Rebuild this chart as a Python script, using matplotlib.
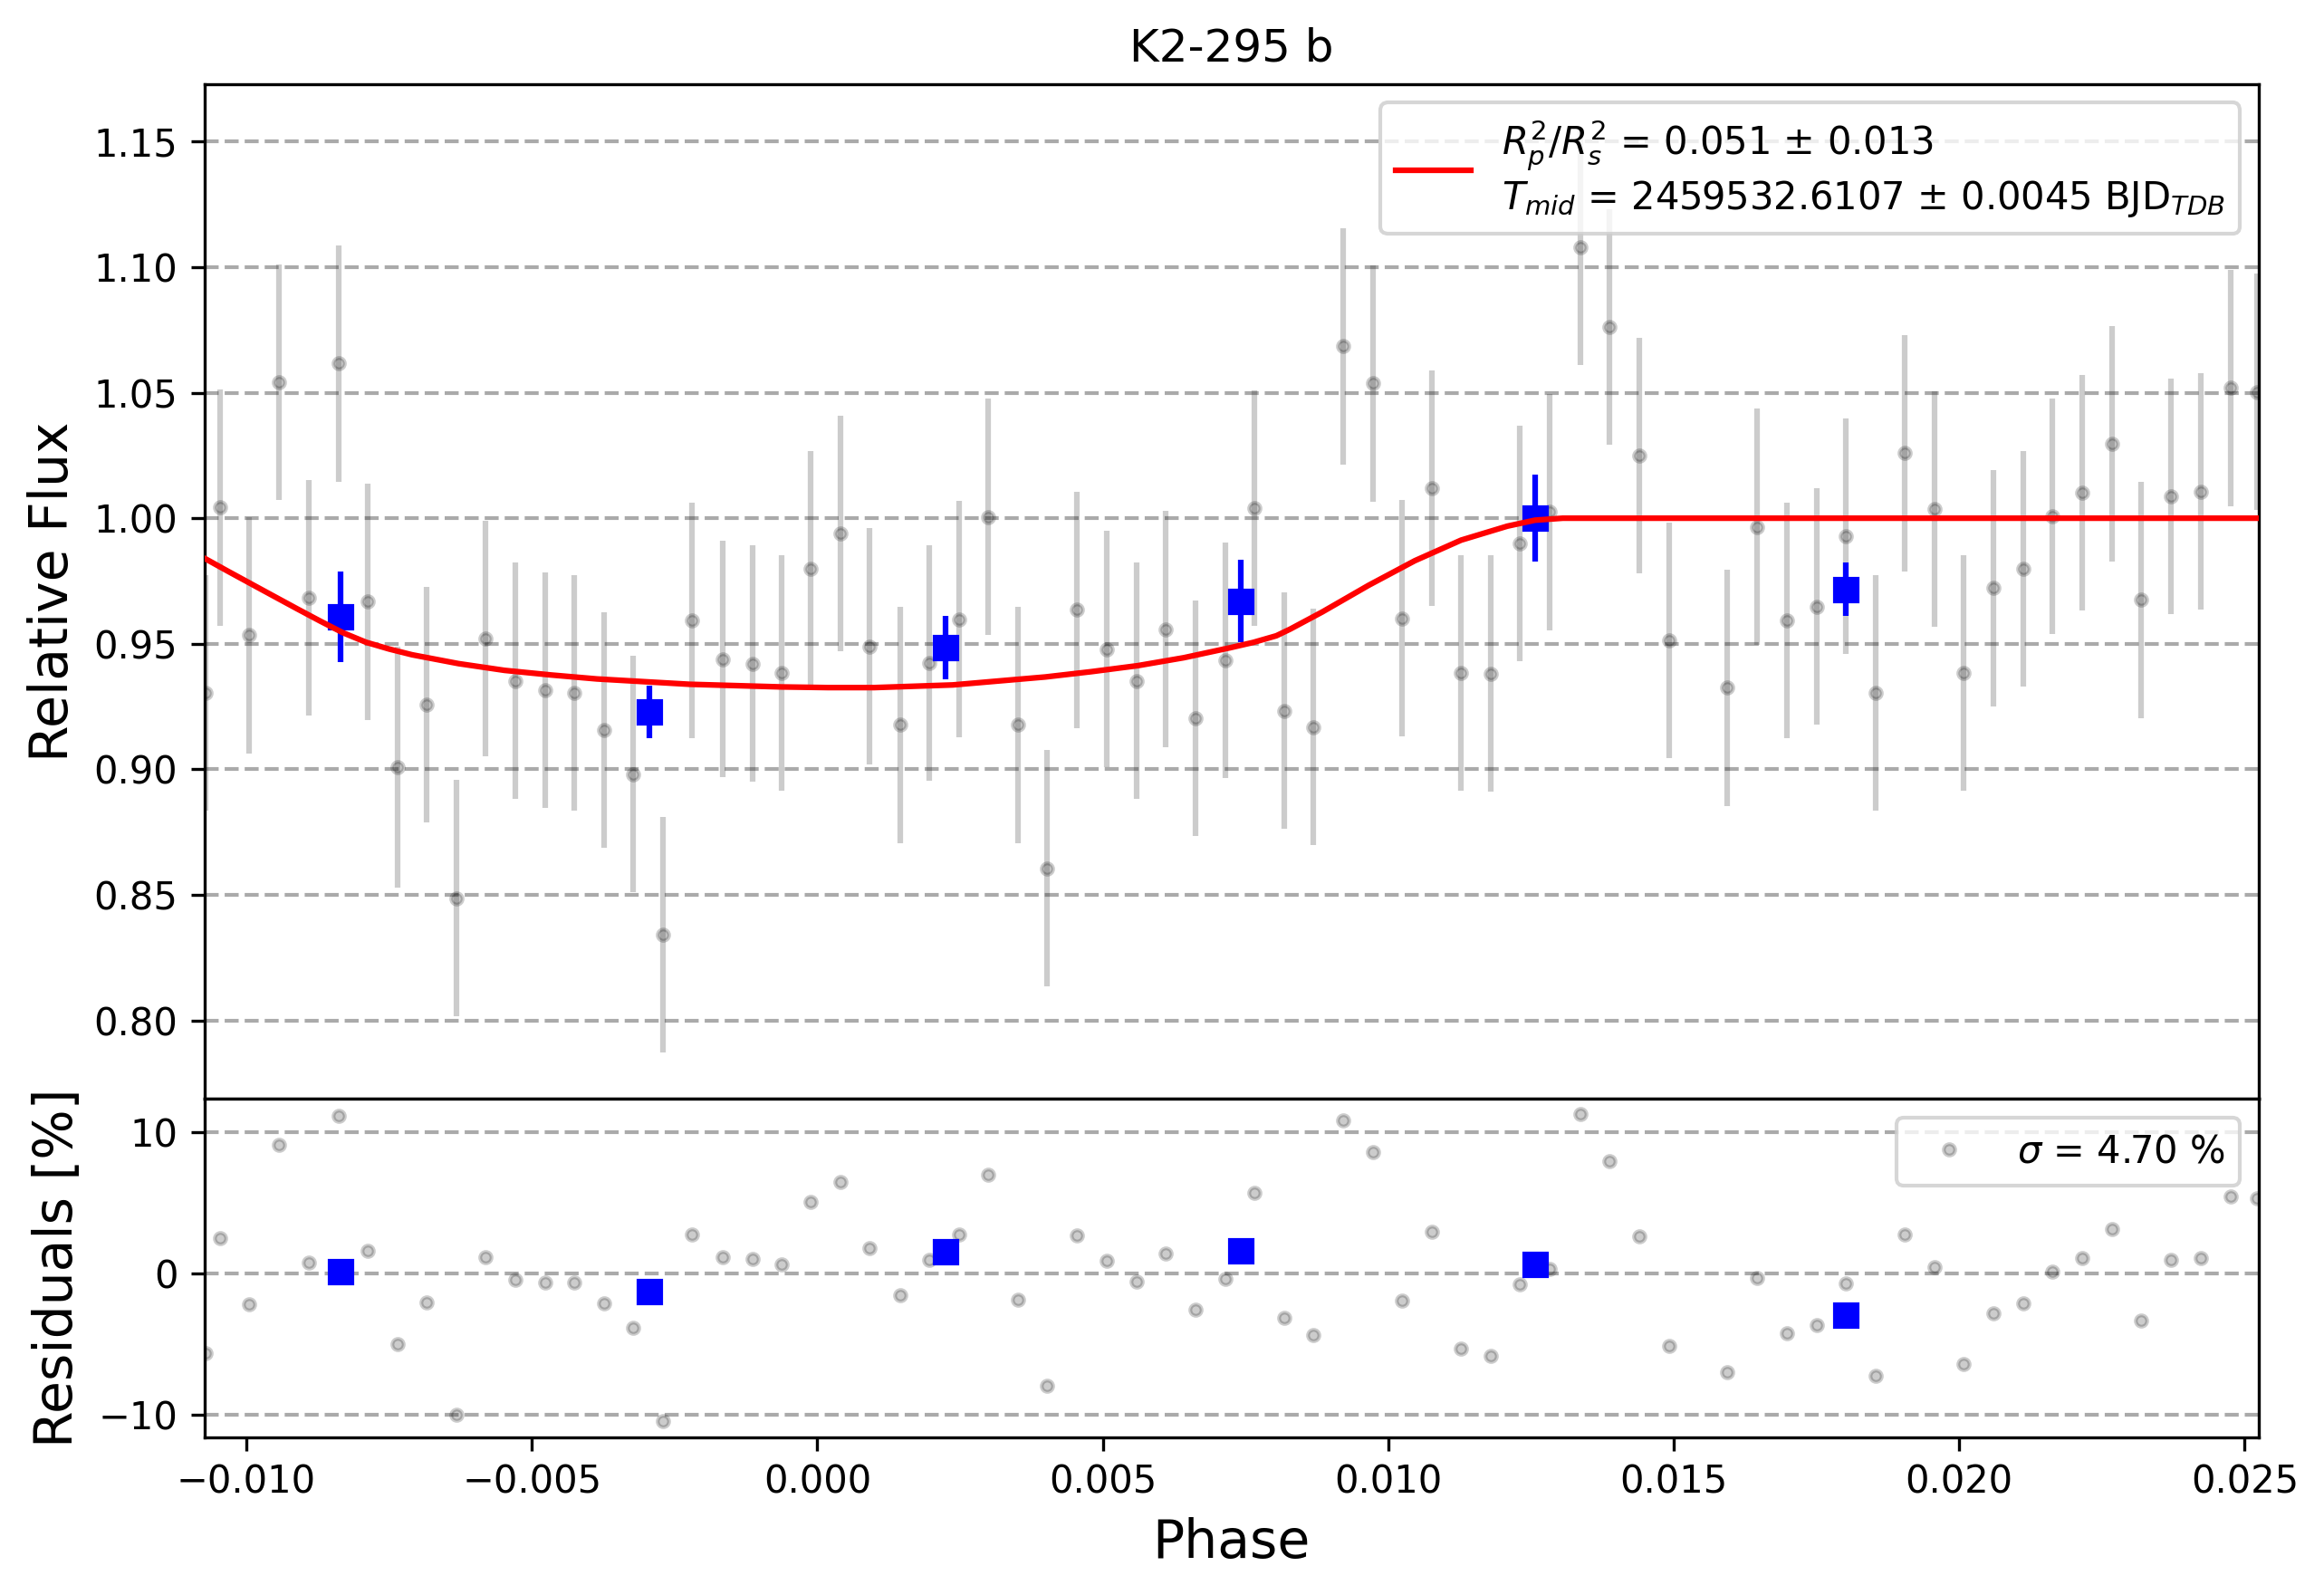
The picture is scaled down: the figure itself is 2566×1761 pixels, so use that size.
import matplotlib
matplotlib.use("Agg")
import matplotlib.pyplot as plt

# ---------------- data ----------------
phase = [-0.01071, -0.01046, -0.00996, -0.00943, -0.00891, -0.00839, -0.00788, -0.00735,
         -0.00684, -0.00632, -0.00581, -0.00529, -0.00477, -0.00426, -0.00373, -0.00322,
         -0.00270, -0.00219, -0.00165, -0.00114, -0.00063, -0.00011, 0.00041, 0.00092,
         0.00145, 0.00196, 0.00248, 0.00299, 0.00351, 0.00403, 0.00455, 0.00507,
         0.00559, 0.00610, 0.00663, 0.00714, 0.00766, 0.00818, 0.00869, 0.00921,
         0.00973, 0.01024, 0.01077, 0.01128, 0.01180, 0.01231, 0.01283, 0.01336,
         0.01387, 0.01439, 0.01492, 0.01594, 0.01646, 0.01698, 0.01750, 0.01801,
         0.01853, 0.01904, 0.01957, 0.02008, 0.02060, 0.02112, 0.02163, 0.02216,
         0.02268, 0.02319, 0.02371, 0.02424, 0.02475, 0.02522]

flux = [0.9304, 1.0042, 0.9534, 1.0542, 0.9683, 1.0616, 0.9667, 0.9008,
        0.9257, 0.8487, 0.9521, 0.9352, 0.9315, 0.9304, 0.9156, 0.8981,
        0.8341, 0.9593, 0.9439, 0.9421, 0.9384, 0.9799, 0.9939, 0.9489,
        0.9177, 0.9423, 0.9598, 1.0005, 0.9177, 0.8606, 0.9635, 0.9479,
        0.9352, 0.9558, 0.9204, 0.9434, 1.0040, 0.9233, 0.9169, 1.0685,
        1.0537, 0.9601, 1.0119, 0.9384, 0.9381, 0.9899, 1.0024, 1.1079,
        1.0762, 1.0249, 0.9513, 0.9325, 0.9966, 0.9593, 0.9648, 0.9929,
        0.9304, 1.0259, 1.0037, 0.9384, 0.9722, 0.9799, 1.0008, 1.0101,
        1.0296, 0.9675, 1.0087, 1.0106, 1.0519, 1.0503]

flux_err = [0.047, 0.047, 0.047, 0.047, 0.047, 0.047, 0.047, 0.048,
            0.047, 0.047, 0.047, 0.047, 0.047, 0.047, 0.047, 0.047,
            0.047, 0.047, 0.047, 0.047, 0.047, 0.047, 0.047, 0.047,
            0.047, 0.047, 0.047, 0.047, 0.047, 0.047, 0.047, 0.047,
            0.047, 0.047, 0.047, 0.047, 0.047, 0.047, 0.047, 0.047,
            0.047, 0.047, 0.047, 0.047, 0.047, 0.047, 0.047, 0.047,
            0.047, 0.047, 0.047, 0.047, 0.047, 0.047, 0.047, 0.047,
            0.047, 0.047, 0.047, 0.047, 0.047, 0.047, 0.047, 0.047,
            0.047, 0.047, 0.047, 0.047, 0.047, 0.047]

residuals = [-5.60, 2.53, -2.15, 9.07, 0.77, 11.16, 1.60, -4.98,
             -2.04, -9.95, 1.15, -0.45, -0.66, -0.62, -2.11, -3.86,
             -10.42, 2.75, 1.15, 1.04, 0.66, 5.05, 6.45, 1.79,
             -1.51, 1.00, 2.77, 6.96, -1.83, -7.90, 2.68, 0.89,
             -0.58, 1.43, -2.53, -0.38, 5.69, -3.15, -4.35, 10.80,
             8.56, -1.94, 2.94, -5.28, -5.79, -0.79, 0.30, 11.25,
             7.97, 2.64, -5.13, -6.96, -0.32, -4.22, -3.64, -0.72,
             -7.22, 2.75, 0.45, -6.39, -2.81, -2.11, 0.15, 1.09,
             3.15, -3.32, 0.98, 1.09, 5.45, 5.30]

bin_phase = [-0.00835, -0.00294, 0.00224, 0.00742, 0.01258, 0.01801]
bin_flux = [0.9606, 0.9228, 0.9484, 0.9669, 1.0000, 0.9717]
bin_err = [0.0180, 0.0105, 0.0126, 0.0164, 0.0172, 0.0106]
bin_resid = [0.13, -1.28, 1.53, 1.60, 0.64, -2.94]

model_phase = [-0.010738, -0.010333, -0.009929, -0.009524, -0.009118, -0.008713,
               -0.008309, -0.007904, -0.007500, -0.007096, -0.006287, -0.005478,
               -0.004667, -0.003858, -0.003049, -0.002240, -0.001431, -0.000620,
               0.000189, 0.000998, 0.002373, 0.003184, 0.003993, 0.004802,
               0.005611, 0.006420, 0.007231, 0.007635, 0.008039, 0.008282,
               0.008848, 0.009657, 0.010466, 0.011277, 0.012086, 0.012571,
               0.013057, 0.025300]
model_flux = [0.98410, 0.97900, 0.97400, 0.96900, 0.96400, 0.95910,
              0.95440, 0.95060, 0.94790, 0.94560, 0.94210, 0.93940,
              0.93757, 0.93598, 0.93492, 0.93386, 0.93333, 0.93280,
              0.93254, 0.93254, 0.93360, 0.93519, 0.93677, 0.93889,
              0.94127, 0.94444, 0.94841, 0.95053, 0.95317, 0.95582,
              0.96270, 0.97328, 0.98307, 0.99127, 0.99683, 0.99921,
              1.00000, 1.00000]

flux_ticks = [0.80, 0.85, 0.90, 0.95, 1.00, 1.05, 1.10, 1.15]
resid_ticks = [-10, 0, 10]
phase_ticks = [-0.010, -0.005, 0.000, 0.005, 0.010, 0.015, 0.020, 0.025]

title = "K2-295 b"
model_label = (r"$R^2_p/R^2_s$ = 0.051 ± 0.013" + "\n"
               + r"$T_{mid}$ = 2459532.6107 ± 0.0045 BJD$_{TDB}$")
resid_label = r"$\sigma$ = 4.70 %"

# ---------------- figure ----------------
fig = plt.figure(figsize=(2566 / 300, 1761 / 300), dpi=300)
left, width = 0.08788, 0.88414
ax1 = fig.add_axes([left, 0.31113, width, 0.63634])
ax2 = fig.add_axes([left, 0.09898, width, 0.21215], sharex=ax1)

ax1.errorbar(phase, flux, yerr=flux_err, fmt='.', color='black', alpha=0.2, zorder=2)
ax1.errorbar(bin_phase, bin_flux, yerr=bin_err, fmt='s', color='blue', zorder=3)
ax1.plot(model_phase, model_flux, color='red', lw=1.5, label=model_label, zorder=4)

ax1.set_xlim(-0.010738, 0.025251)
ax1.set_ylim(0.7688, 1.1730)
ax1.set_yticks(flux_ticks)
ax1.grid(axis='y', ls='--', lw=1.0, color='#aaaaaa')
ax1.tick_params(axis='x', bottom=False, labelbottom=False)
ax1.set_ylabel('Relative Flux', fontsize=14)
ax1.set_title(title, fontsize=12)
ax1.legend(loc='upper right', fontsize=10)

ax2.plot(phase, residuals, '.', color='black', alpha=0.2, label=resid_label, zorder=2)
ax2.plot(bin_phase, bin_resid, 's', color='blue', zorder=3)
ax2.set_ylim(-11.55, 12.35)
ax2.set_yticks(resid_ticks)
ax2.set_xticks(phase_ticks)
ax2.grid(axis='y', ls='--', lw=1.0, color='#aaaaaa')
ax2.set_xlabel('Phase', fontsize=14)
ax2.set_ylabel('Residuals [%]', fontsize=14)
ax2.legend(loc='upper right', fontsize=10)

fig.savefig('out.png', dpi=300)
